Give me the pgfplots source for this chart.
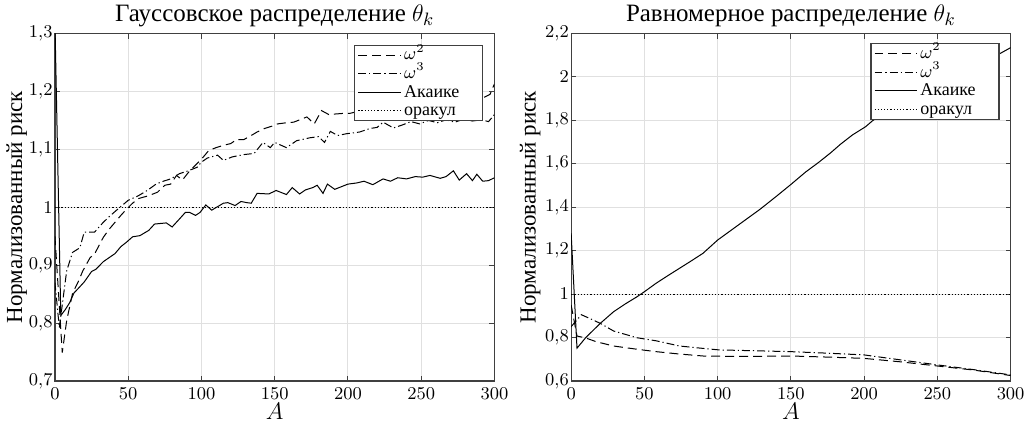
\documentclass[border=0pt]{standalone}
\usepackage[no-math]{fontspec}
\setmainfont{Liberation Serif}
\usepackage{pgfplots}
\pgfplotsset{compat=1.18}

\definecolor{gridgray}{gray}{0.88}
\definecolor{boxgray}{gray}{0.25}

\pgfplotsset{
  matstyle/.style={
    scale only axis,
    width=220pt, height=173.9pt,
    xmin=0, xmax=300,
    xtick={0,50,100,150,200,250,300},
    grid=major,
    major grid style={draw=gridgray, line width=0.5pt},
    axis line style={draw=boxgray, line width=0.6pt},
    tick align=inside,
    major tick length=2.5pt,
    tick style={draw=boxgray, line width=0.5pt},
    tick label style={font=\fontsize{9.5}{10}\selectfont},
    yticklabel style={inner xsep=1pt},
    label style={font=\fontsize{11.5}{12}\selectfont},
    title style={font=\fontsize{12.5}{13}\selectfont, yshift=-6pt},
    xlabel={$A$},
    ylabel={Нормализованный риск},
    xlabel style={yshift=5pt},
    every axis y label/.append style={at={(axis description cs:-0.087,0.5)}, anchor=center},
    yticklabel style={/pgf/number format/.cd, use comma, fixed, precision=1},
    legend style={
      at={(0.975,0.968)}, anchor=north east,
      draw=boxgray, line width=0.6pt, fill=white,
      font=\fontsize{9}{9}\selectfont,
      inner xsep=1.5pt, inner ysep=0.3pt,
      nodes={text height=6.8pt, text depth=2pt, inner ysep=0.25pt, inner xsep=1.2pt},
      row sep=0pt,
      cells={anchor=west},
    },
    legend image code/.code={\draw[#1, line width=0.5pt] (0pt,0pt) -- (21.5pt,0pt);},
  },
  w2/.style={black, line width=0.5pt, dash pattern=on 4.5pt off 2.5pt},
  w3/.style={black, line width=0.5pt, dash pattern=on 4pt off 1.5pt on 0.6pt off 1.5pt},
  aic/.style={black, line width=0.5pt},
  orc/.style={black, line width=0.5pt, dash pattern=on 0.6pt off 1pt},
}

\begin{document}
\begin{tikzpicture}
\begin{axis}[
  matstyle,
  ymin=0.7, ymax=1.3,
  ytick={0.7,0.8,0.9,1.0,1.1,1.2,1.3},
  title={Гауссовское распределение $\theta_k$},
]
\addplot[w2] coordinates {
 (0,0.95) (5,0.749) (8,0.804) (12,0.851) (16,0.872) (19,0.890) (24,0.913)
 (27,0.919) (33,0.948) (37,0.962) (41,0.974) (45,0.986) (49,0.997) (53,1.007)
 (57,1.015) (64,1.020) (70,1.026) (75,1.038) (79,1.040) (83,1.055) (87,1.047)
 (92,1.063) (98,1.078) (101,1.086) (105,1.098) (110,1.103) (115,1.107) (120,1.110)
 (124,1.117) (129,1.117) (134,1.124) (138,1.130) (143,1.136) (148,1.140) (152,1.144)
 (158,1.146) (163,1.147) (168,1.152) (172,1.156) (177,1.144) (182,1.167) (187,1.160)
 (191,1.161) (196,1.162) (201,1.162) (206,1.165) (212,1.168) (218,1.167) (224,1.172)
 (230,1.170) (236,1.175) (242,1.173) (248,1.178) (254,1.176) (260,1.181) (266,1.180)
 (272,1.184) (278,1.183) (284,1.187) (289,1.186) (293,1.190) (297,1.195) (300,1.213)
};
\addlegendentry{$\omega^2$}
\addplot[w3] coordinates {
 (0,0.87) (3,0.792) (8,0.890) (12,0.922) (17,0.930) (20,0.957) (27,0.957)
 (33,0.974) (38,0.986) (43,0.997) (50,1.012) (57,1.020) (63,1.029) (69,1.040)
 (74,1.045) (79,1.049) (85,1.058) (91,1.063) (97,1.069) (100,1.078) (104,1.085)
 (111,1.090) (115,1.081) (121,1.087) (129,1.091) (136,1.093) (142,1.112) (147,1.103)
 (150,1.112) (158,1.103) (165,1.115) (174,1.120) (180,1.122) (184,1.112) (188,1.131)
 (193,1.124) (199,1.127) (208,1.130) (215,1.136) (220,1.138) (224,1.147) (231,1.137)
 (237,1.142) (243,1.148) (249,1.144) (255,1.150) (261,1.146) (267,1.151) (273,1.147)
 (279,1.152) (285,1.149) (291,1.151) (296,1.148) (300,1.160)
};
\addlegendentry{$\omega^3$}
\addplot[aic] coordinates {
 (0,1.32) (4,0.813) (7,0.823) (10,0.835) (13,0.852) (16,0.860) (20,0.871)
 (25,0.889) (28,0.893) (33,0.906) (37,0.913) (41,0.920) (45,0.932) (49,0.940)
 (53,0.949) (58,0.951) (64,0.960) (68,0.971) (76,0.973) (80,0.966) (84,0.977)
 (89,0.991) (92,0.991) (96,0.986) (99,0.991) (103,1.004) (107,0.995) (111,1.001)
 (115,1.007) (118,1.008) (123,1.003) (127,1.010) (131,1.008) (134,1.007) (138,1.024)
 (146,1.023) (151,1.029) (158,1.022) (162,1.034) (167,1.023) (171,1.030) (176,1.034)
 (179,1.038) (183,1.024) (186,1.040) (191,1.031) (195,1.035) (200,1.040) (206,1.042)
 (211,1.045) (217,1.039) (224,1.049) (229,1.045) (234,1.051) (240,1.049) (246,1.053)
 (251,1.052) (256,1.055) (263,1.050) (267,1.053) (272,1.063) (276,1.047) (281,1.058)
 (285,1.046) (288,1.057) (292,1.045) (296,1.046) (300,1.051)
};
\addlegendentry{Акаике\hspace*{9pt}}
\addplot[orc] coordinates {(0,1) (300,1)};
\addlegendentry{оракул}
\end{axis}

\begin{axis}[
  matstyle,
  at={(258.4pt,0pt)},
  ymin=0.6, ymax=2.2,
  ytick={0.6,0.8,1.0,1.2,1.4,1.6,1.8,2.0,2.2},
  every axis y label/.append style={at={(axis description cs:-0.093,0.5)}},
  legend style={at={(0.975,0.972)}},
  title={Равномерное распределение $\theta_k$},
]
\addplot[w2] coordinates {
 (0,0.95) (4,0.807) (10,0.798) (17,0.781) (29,0.761) (45,0.746) (58,0.735)
 (74,0.724) (90,0.715) (101,0.714) (120,0.713) (150,0.715) (175,0.710)
 (200,0.704) (225,0.688) (250,0.669) (275,0.650) (300,0.625)
};
\addlegendentry{$\omega^2$}
\addplot[w3] coordinates {
 (0,0.85) (7,0.905) (12,0.89) (20,0.865) (29,0.830) (45,0.799) (58,0.785)
 (74,0.761) (90,0.750) (101,0.743) (120,0.740) (150,0.735) (175,0.728)
 (200,0.720) (225,0.697) (250,0.674) (275,0.652) (300,0.628)
};
\addlegendentry{$\omega^3$}
\addplot[aic] coordinates {
 (0,1.28) (4,0.751) (10,0.800) (20,0.866) (29,0.919) (37,0.955) (45,0.988)
 (50,1.011) (58,1.050) (66,1.085) (74,1.119) (82,1.153) (90,1.188) (100,1.249)
 (110,1.298) (120,1.347) (129,1.391) (140,1.450) (150,1.505) (160,1.562)
 (169,1.607) (177,1.650) (184,1.691) (192,1.733) (201,1.771) (206,1.800)
 (215,1.836) (225,1.876) (235,1.914) (245,1.950) (255,1.985) (265,2.018)
 (275,2.050) (285,2.081) (293,2.109) (300,2.135)
};
\addlegendentry{Акаике\hspace*{9pt}}
\addplot[orc] coordinates {(0,1) (300,1)};
\addlegendentry{оракул}
\end{axis}
% page frame with the reference's margins
\pgfresetboundingbox
\path (-27.5pt,-22pt) rectangle (489.6pt,190.7pt);
\end{tikzpicture}
\end{document}
